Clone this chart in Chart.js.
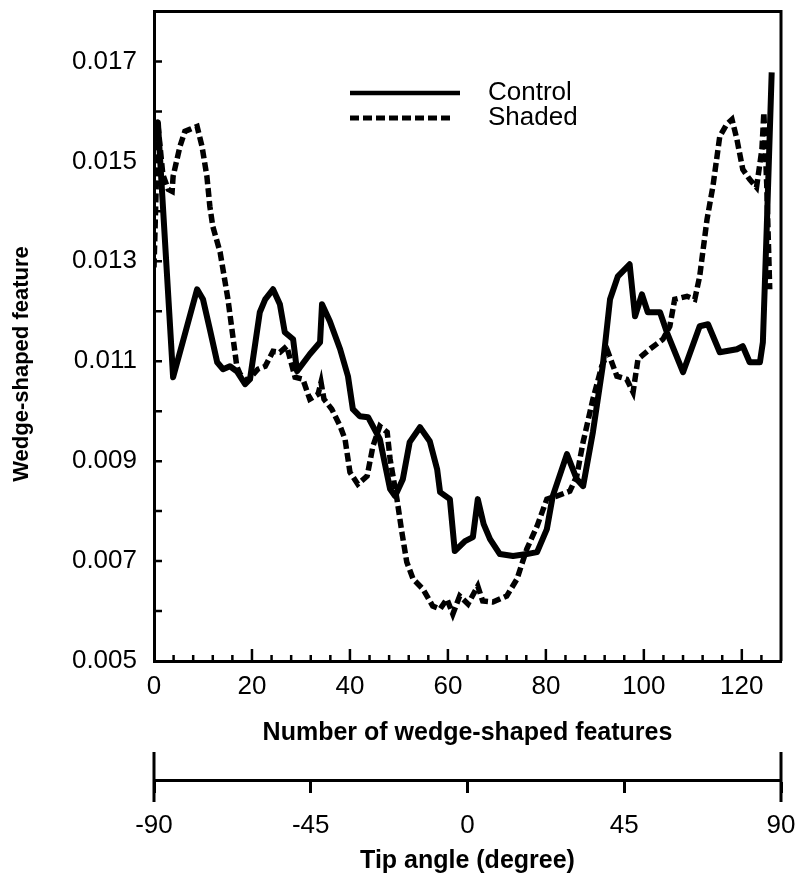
<!DOCTYPE html>
<html>
<head>
<meta charset="utf-8">
<title>Wedge-shaped features</title>
<script src="https://cdn.jsdelivr.net/npm/chart.js@4.4.1/dist/chart.umd.min.js"></script>
<style>
  html, body { margin: 0; padding: 0; background: #fff; }
  #wrap { width: 809px; height: 882px; }
</style>
</head>
<body>
<div id="wrap"><canvas id="wedgeChart"></canvas></div>
<script>
// Control series
const controlCount = [0, 0.8, 3.9, 6.3, 8.8, 10, 11.4, 12.9, 14.1, 15.5, 16.9, 18.6, 19.6, 21.6, 22.7, 24.3, 25.7, 26.7,
    28.4, 29.2, 31.8, 33.9, 34.3, 35.9, 38, 39.6, 40.6, 42, 43.7, 46.1, 48.2, 49.2, 50.8, 52.2, 54.3, 56.3, 57.8,
    58.4, 60.4, 61.4, 63.5, 65.1, 66.1, 67.3, 68.6, 70.6, 73.3, 76.1, 78.2, 80.2, 81.4, 84.3, 86.3, 87.6, 89.6,
    91.6, 93.1, 94.7, 97.1, 98.2, 99.6, 100.8, 103.3, 104.7, 108, 111.4, 113.1, 115.5, 119, 120.2, 121.6, 123.7,
    124.3, 125.1, 126.1];
const controlValue = [0.0155, 0.01578, 0.01068, 0.01154, 0.01244, 0.01224, 0.01164, 0.01098, 0.01084, 0.0109,
    0.0108, 0.01054, 0.01064, 0.01198, 0.01224, 0.01244, 0.01214, 0.01158, 0.01144, 0.0108, 0.01114, 0.01138,
    0.01214, 0.0118, 0.01124, 0.0107, 0.01004, 0.0099, 0.00988, 0.00944, 0.00844, 0.0083, 0.00864, 0.00938,
    0.00968, 0.0094, 0.00884, 0.00838, 0.00824, 0.0072, 0.0074, 0.00748, 0.00824, 0.00774, 0.00744, 0.00714,
    0.0071, 0.00714, 0.00718, 0.00764, 0.0083, 0.00914, 0.00864, 0.0085, 0.00958, 0.0109, 0.01224, 0.0127,
    0.01294, 0.0119, 0.01234, 0.01198, 0.01198, 0.01158, 0.01078, 0.0117, 0.01174, 0.01118, 0.01124, 0.0113,
    0.01098, 0.01098, 0.01138, 0.0137, 0.01678];

// Shaded series
const shadedCount = [0, 0.8, 1.8, 2.9, 3.7, 3.9, 5.3, 6.3, 7.3, 8.8, 9.8, 10.8, 11.4, 12, 13.5, 15.1, 16.9, 17.6,
    19, 21.2, 22.7, 24.3, 25.7, 27.1, 28.8, 30.4, 31.8, 33.5, 34.1, 34.7, 36.3, 38, 39, 40, 41.6, 43.5, 44.7,
    46.1, 47.6, 48.2, 49.6, 50.6, 51.6, 52.9, 54.9, 56.9, 58.4, 59.8, 61, 62.4, 64.1, 66.1, 67.1, 69.2, 72,
    74.1, 76.1, 78.2, 80.2, 82.2, 84.9, 86.3, 87.6, 89.6, 91.4, 92.7, 94.5, 96.5, 97.8, 98.8, 101.2, 103.9,
    105.3, 106.3, 108.8, 110.4, 111.4, 112.9, 114.1, 115.5, 116.9, 118, 119, 120.2, 121.6, 123, 124.1, 124.5,
    125.1, 125.7];
const shadedValue = [0.01288, 0.01574, 0.01474, 0.01444, 0.0144, 0.0147, 0.0153, 0.0156, 0.01564, 0.0157,
    0.0153, 0.0147, 0.0141, 0.0137, 0.01318, 0.01224, 0.0109, 0.01074, 0.0106, 0.01084, 0.0109, 0.0112,
    0.01118, 0.0113, 0.01068, 0.01064, 0.01024, 0.01034, 0.01058, 0.01024, 0.01004, 0.0097, 0.00944, 0.00878,
    0.00854, 0.0087, 0.0093, 0.0097, 0.00958, 0.00904, 0.00824, 0.00758, 0.00698, 0.00664, 0.00644, 0.0061,
    0.00604, 0.00624, 0.00594, 0.0063, 0.00614, 0.0065, 0.0062, 0.00618, 0.0063, 0.00664, 0.00724, 0.0077,
    0.00824, 0.0083, 0.0084, 0.0087, 0.00938, 0.01024, 0.0109, 0.01118, 0.0107, 0.01064, 0.01038, 0.01104,
    0.01124, 0.01144, 0.0117, 0.01224, 0.0123, 0.01224, 0.0127, 0.01384, 0.0145, 0.0155, 0.01574, 0.01584,
    0.01544, 0.01484, 0.01464, 0.01448, 0.01524, 0.01598, 0.0145, 0.01244];

// Axis labels
const valueTicks = [0.005, 0.007, 0.009, 0.011, 0.013, 0.015, 0.017];
const countTicks = [0, 20, 40, 60, 80, 100, 120];
const angleTicks = [-90, -45, 0, 45, 90];

const FONT = '"Liberation Sans", Arial, sans-serif';
Chart.defaults.font.family = FONT;
Chart.defaults.color = '#000';

function toPoints(xs, ys) {
    return xs.map((x, i) => ({ x: x, y: ys[i] }));
}

// tick marks pointing into the plot, the frame, and the ends of the angle axis
const axisMarks = {
    id: 'axisMarks',
    afterDatasetsDraw(chart) {
        const { ctx, chartArea: a, scales } = chart;
        const y = scales.y, x = scales.x, x2 = scales.x2;
        ctx.save();
        ctx.strokeStyle = '#000';
        ctx.lineWidth = 3;
        ctx.beginPath();
        ctx.moveTo(a.left, a.top);
        ctx.lineTo(a.right, a.top);
        ctx.lineTo(a.right, a.bottom);
        ctx.stroke();

        ctx.lineWidth = 2.5;
        ctx.beginPath();
        for (let v = 6; v <= 17; v++) {
            const py = y.getPixelForValue(v / 1000);
            ctx.moveTo(a.left, py);
            ctx.lineTo(a.left + 8, py);
        }
        for (let c = 4; c <= 124; c += 4) {
            const px = x.getPixelForValue(c);
            ctx.moveTo(px, a.bottom);
            ctx.lineTo(px, a.bottom - (c % 20 === 0 ? 12 : 6));
        }
        ctx.stroke();

        ctx.lineWidth = 3;
        ctx.beginPath();
        [angleTicks[0], angleTicks[angleTicks.length - 1]].forEach(v => {
            const px = x2.getPixelForValue(v);
            ctx.moveTo(px, x2.top - 28);
            ctx.lineTo(px, x2.top + 22);
        });
        ctx.stroke();
        ctx.restore();
    }
};

// legend drawn inside the plot with each dataset's own line style
const lineLegend = {
    id: 'lineLegend',
    afterDraw(chart) {
        const ctx = chart.ctx;
        const rows = [
            { y: 93, x0: 350, x1: 460 },
            { y: 118, x0: 350, x1: 451 }
        ];
        ctx.save();
        chart.data.datasets.forEach((ds, i) => {
            const r = rows[i];
            ctx.strokeStyle = ds.borderColor;
            ctx.lineWidth = i === 0 ? 4.5 : 5;
            ctx.setLineDash(ds.borderDash || []);
            ctx.beginPath();
            ctx.moveTo(r.x0, r.y);
            ctx.lineTo(r.x1, r.y);
            ctx.stroke();
            ctx.setLineDash([]);
            ctx.fillStyle = '#000';
            ctx.font = '26px ' + FONT;
            ctx.textAlign = 'left';
            ctx.textBaseline = 'middle';
            ctx.fillText(ds.label, 488, r.y);
        });

        // value axis title
        ctx.translate(22, 364);
        ctx.rotate(-Math.PI / 2);
        ctx.font = 'bold 22px ' + FONT;
        ctx.textAlign = 'center';
        ctx.fillText('Wedge-shaped feature', 0, 0);
        ctx.restore();
    }
};

const data = {
    datasets: [{
        label: 'Control',
        data: toPoints(controlCount, controlValue),
        borderColor: '#000',
        borderWidth: 6,
        borderJoinStyle: 'round',
        pointRadius: 0,
        xAxisID: 'x',
        yAxisID: 'y'
    }, {
        label: 'Shaded',
        data: toPoints(shadedCount, shadedValue),
        borderColor: '#000',
        borderWidth: 5.5,
        borderDash: [9, 4],
        pointRadius: 0,
        xAxisID: 'x',
        yAxisID: 'y'
    }]
};

const config = {
    type: 'line',
    data: data,
    options: {
        responsive: true,
        maintainAspectRatio: false,
        animation: false,
        layout: { padding: { top: 11.5, left: 0, right: 28, bottom: 0 } },
        plugins: {
            legend: { display: false },
            tooltip: { enabled: false }
        },
        scales: {
            y: {
                type: 'linear',
                min: 0.005,
                max: 0.018,
                afterBuildTicks: s => { s.ticks = valueTicks.map(v => ({ value: v })); },
                afterFit: s => { s.width = 154; s.paddingTop = 0; s.paddingBottom = 0; },
                grid: { display: false, drawTicks: false },
                border: { display: true, color: '#000', width: 3 },
                ticks: {
                    font: { size: 26 },
                    color: '#000',
                    padding: 17,
                    callback: v => v.toFixed(3)
                }
            },
            x: {
                type: 'linear',
                position: 'bottom',
                weight: 0,
                min: 0,
                max: 128,
                afterBuildTicks: s => { s.ticks = countTicks.map(v => ({ value: v })); },
                afterFit: s => { s.height = 119; s.paddingLeft = 0; s.paddingRight = 0; },
                grid: { display: false, drawTicks: false },
                border: { display: true, color: '#000', width: 3 },
                ticks: { font: { size: 26 }, color: '#000', padding: 10, maxRotation: 0, autoSkip: false },
                title: {
                    display: true,
                    text: 'Number of wedge-shaped features',
                    font: { size: 25, weight: 'bold' },
                    color: '#000',
                    padding: { top: 0, bottom: 32 }
                }
            },
            x2: {
                type: 'linear',
                axis: 'x',
                position: 'bottom',
                weight: 1,
                min: -90,
                max: 90,
                afterBuildTicks: s => { s.ticks = angleTicks.map(v => ({ value: v })); },
                afterFit: s => { s.height = 102; s.paddingLeft = 0; s.paddingRight = 0; },
                grid: {
                    display: true,
                    drawOnChartArea: false,
                    drawTicks: true,
                    tickLength: 13,
                    tickWidth: 3,
                    tickColor: '#000'
                },
                border: { display: true, color: '#000', width: 3 },
                ticks: { font: { size: 26 }, color: '#000', padding: 17, maxRotation: 0, autoSkip: false },
                title: {
                    display: true,
                    text: 'Tip angle (degree)',
                    font: { size: 25, weight: 'bold' },
                    color: '#000',
                    padding: { top: 0, bottom: 6 }
                }
            }
        }
    },
    plugins: [axisMarks, lineLegend]
};

window.wedgeChart = new Chart(document.getElementById('wedgeChart'), config);
</script>
</body>
</html>
